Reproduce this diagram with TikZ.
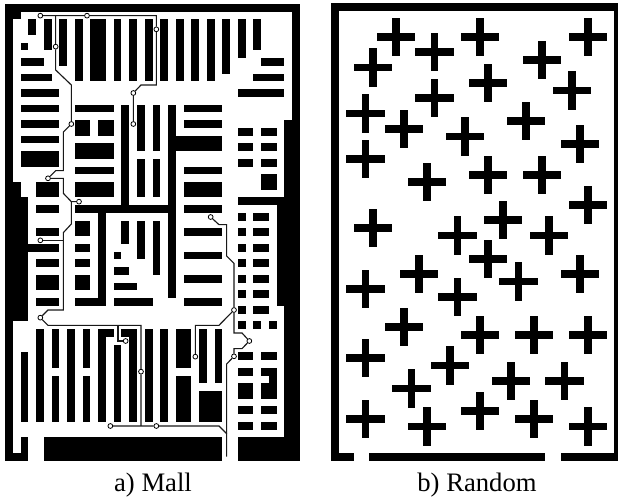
\documentclass[tikz,border=0pt]{standalone}
\usepackage{fontspec}
\setmainfont{Liberation Serif}
\tikzset{
  wire/.style={line width=0.85pt,draw=black!90},
  dot/.style={circle,draw=black,fill=white,inner sep=0pt,minimum size=3.6pt,line width=0.6pt},
  caption/.style={font=\fontsize{20}{24}\selectfont,anchor=base,inner sep=0pt}
}
\newcommand{\MB}[4]{\fill[black] ({15+23.29*(#1)},{12+23.22*(#2)}) rectangle ({15+23.29*(#3)},{12+23.22*(#4)});}
\begin{document}
\begin{tikzpicture}[x=0.25pt,y=-0.25pt]
\useasboundingbox (0,0) rectangle (1854,1494);
\fill[white] (0,0) rectangle (1854,1494);
% Mall: outer walls
\foreach \a/\b/\c/\d in {0/0/38/1, 0/1/2/2, 0/1/1/23, 0/23/2/25, 0/25/3/41, 0/41/1/59, 0/58/3/59, 2/56/3/58,
  37/1/38/15, 36/15/38/39, 35/25/38/39, 36/39/38/59, 30/25/36/26, 5/56/28/59, 30/56/38/59}
  {\MB{\a}{\b}{\c}{\d}}
% Mall: top row
\foreach \a/\b/\c/\d in {3/2/4/4, 5/2/6/6, 7/2/8/8, 9/2/10/10, 11/2/13/10, 14/2/15/10, 16/2/17/10, 18/2/19/10,
  20/2/21/10, 22/2/23/10, 24/2/25/10, 26/2/27/10, 28/2/29/9, 30/2/31/7, 32/2/33/6,
  33/7/36/8, 32/9/36/10, 30/11/36/12}
  {\MB{\a}{\b}{\c}{\d}}
% Mall: left column
\foreach \a/\b/\c/\d in {2/5/3/6, 2/7/5/8, 2/9/6/10, 2/11/7/12, 2/13/7/14, 2/15/7/16, 2/17/7/18, 2/19/7/21,
  4/23/7/25, 4/26/7/27, 4/29/7/30, 3/31/7/32, 4/33/7/34, 4/35/7/37, 4/38/7/39}
  {\MB{\a}{\b}{\c}{\d}}
% Mall: centre
\foreach \a/\b/\c/\d in {9/13/14/14, 9/15/11/17, 12/15/14/17, 9/18/14/20, 9/21/14/22, 9/23/14/25,
  9/26/22/27, 15/13/16/26, 21/13/22/38, 17/13/18/19, 19/13/20/19, 17/20/18/25, 19/20/20/25,
  12/26/13/39, 9/38/13/39, 9/28/11/30, 9/31/11/32, 9/33/11/34, 9/35/11/37,
  15/28/16/31, 17/28/18/33, 19/28/20/35, 14/32/15/33, 14/34/16/35, 14/36/17/37, 14/38/19/39}
  {\MB{\a}{\b}{\c}{\d}}
% Mall: right of centre
\foreach \a/\b/\c/\d in {23/13/28/14, 23/15/28/16, 22/17/28/19, 23/21/28/22, 23/23/28/25, 23/26/28/27,
  23/29/28/30, 23/32/28/33, 23/35/28/36, 23/38/28/39,
  30/16/32/17, 33/16/35/17, 30/18/32/19, 33/18/35/19, 30/20/32/21, 33/20/35/21, 33/22/35/24}
  {\MB{\a}{\b}{\c}{\d}}
\foreach \j in {27,29,31,33,35,37,39}
  {\MB{30}{\j}{31}{\j+1}\MB{32}{\j}{34}{\j+1}}
% Mall: lower rows
\foreach \a/\b/\c/\d in {2/45/3/54, 4/42/5/54, 6/42/7/47, 6/48/7/54, 8/42/9/54, 10/42/11/47, 10/48/11/54,
  12/42/13/54, 12/42/14/43, 14/44/15/54, 15/42/17/43, 16/42/17/54, 18/42/19/54, 20/42/21/54,
  22/42/24/47, 22/48/24/54, 25/42/26/49, 27/42/28/49, 25/50/28/54,
  30/41/31/42, 32/41/33/42, 34/41/35/42,
  30/45/32/46, 33/45/35/46, 30/47/32/48, 33/47/35/48, 34/47/35/51, 33/49/35/51, 30/49/32/51,
  30/52/32/53, 33/52/35/53, 30/54/32/55, 33/54/35/55}
  {\MB{\a}{\b}{\c}{\d}}
% Route nodes
\node[dot] (a1) at (121,47) {};
\node[dot] (a2) at (261,47) {};
\node[dot] (a3) at (469,88) {};
\node[dot] (a4) at (400,279) {};
\node[dot] (a5) at (400,372) {};
\node[dot] (b1) at (167,140) {};
\node[dot] (b2) at (214,372) {};
\node[dot] (c1) at (144,535) {};
\node[dot] (c2) at (237,605) {};
\node[dot] (c3) at (121,721) {};
\node[dot] (d1) at (121,953) {};
\node[dot] (d2) at (377,1023) {};
\node[dot] (d3) at (423,1115) {};
\node[dot] (e1) at (331,1278) {};
\node[dot] (e2) at (469,1278) {};
\node[dot] (f1) at (632,651) {};
\node[dot] (f2) at (702,930) {};
\node[dot] (f3) at (748,1023) {};
\node[dot] (f4) at (702,1069) {};
\node[dot] (f5) at (586,1070) {};
\coordinate (endR) at (680,1370);
% Routes
\draw[wire] (a1) -- (a2) -- (469,47) -- (a3) -- (469,255) -- (423,255) -- (a4) -- (a5);
\draw[wire] (167,47) -- (b1) -- (167,210) -- (214,255) -- (b2) -- (190,396) -- (190,512) -- (167,512) -- (c1);
\draw[wire] (c1) -- (190,535) -- (190,580) -- (214,605) -- (c2);
\draw[wire] (214,605) -- (214,672) -- (190,698) -- (190,930) -- (144,930) -- (d1);
\draw[wire] (c3) -- (190,721);
\draw[wire] (d1) -- (144,976) -- (423,976) -- (d3) -- (423,1278);
\draw[wire] (354,976) -- (354,1023) -- (d2);
\draw[wire] (e1) -- (e2) -- (657,1278) -- (680,1301) -- (endR);
\draw[wire] (680,1301) -- (680,1092) -- (f4) -- (702,1046) -- (726,1046) -- (f3) -- (726,999) -- (702,999) -- (f2) -- (702,790) -- (680,768) -- (680,674) -- (657,674) -- (f1);
\draw[wire] (f2) -- (657,976) -- (586,976) -- (f5);
% Random: walls
\fill[black] (993,10) rectangle (1854,33);
\fill[black] (993,10) rectangle (1017,1382);
\fill[black] (1842,10) rectangle (1854,1382);
\fill[black] (993,1358) rectangle (1062,1382);
\fill[black] (1107,1358) rectangle (1635,1382);
\fill[black] (1683,1358) rectangle (1854,1382);
% Random: crosses
\foreach \cx/\cy in {213/111, 328/157, 465/111, 788/111, 650/180, 144/203, 489/249, 741/272, 328/295,
  121/341, 237/387, 420/410, 603/364, 765/432, 121/478, 305/546, 489/525, 650/525, 788/615,
  534/660, 144/684, 397/707, 672/707, 489/777, 282/822, 580/845, 765/822, 121/867, 397/891,
  237/982, 465/1005, 627/1005, 788/1005, 121/1074, 374/1097, 558/1143, 718/1143, 259/1166,
  465/1234, 121/1257, 627/1257, 305/1280, 788/1280}
{
  \fill[black] ({975+\cx-57.5},{\cy-11.5}) rectangle ({975+\cx+57.5},{\cy+11.5});
  \fill[black] ({975+\cx-11.5},{\cy-57.5}) rectangle ({975+\cx+11.5},{\cy+57.5});
}
% Captions
\node[caption] (capa) at (459,1476) {a) Mall};
\node[caption] (capb) at (1431,1476) {b) Random};
\end{tikzpicture}
\end{document}
